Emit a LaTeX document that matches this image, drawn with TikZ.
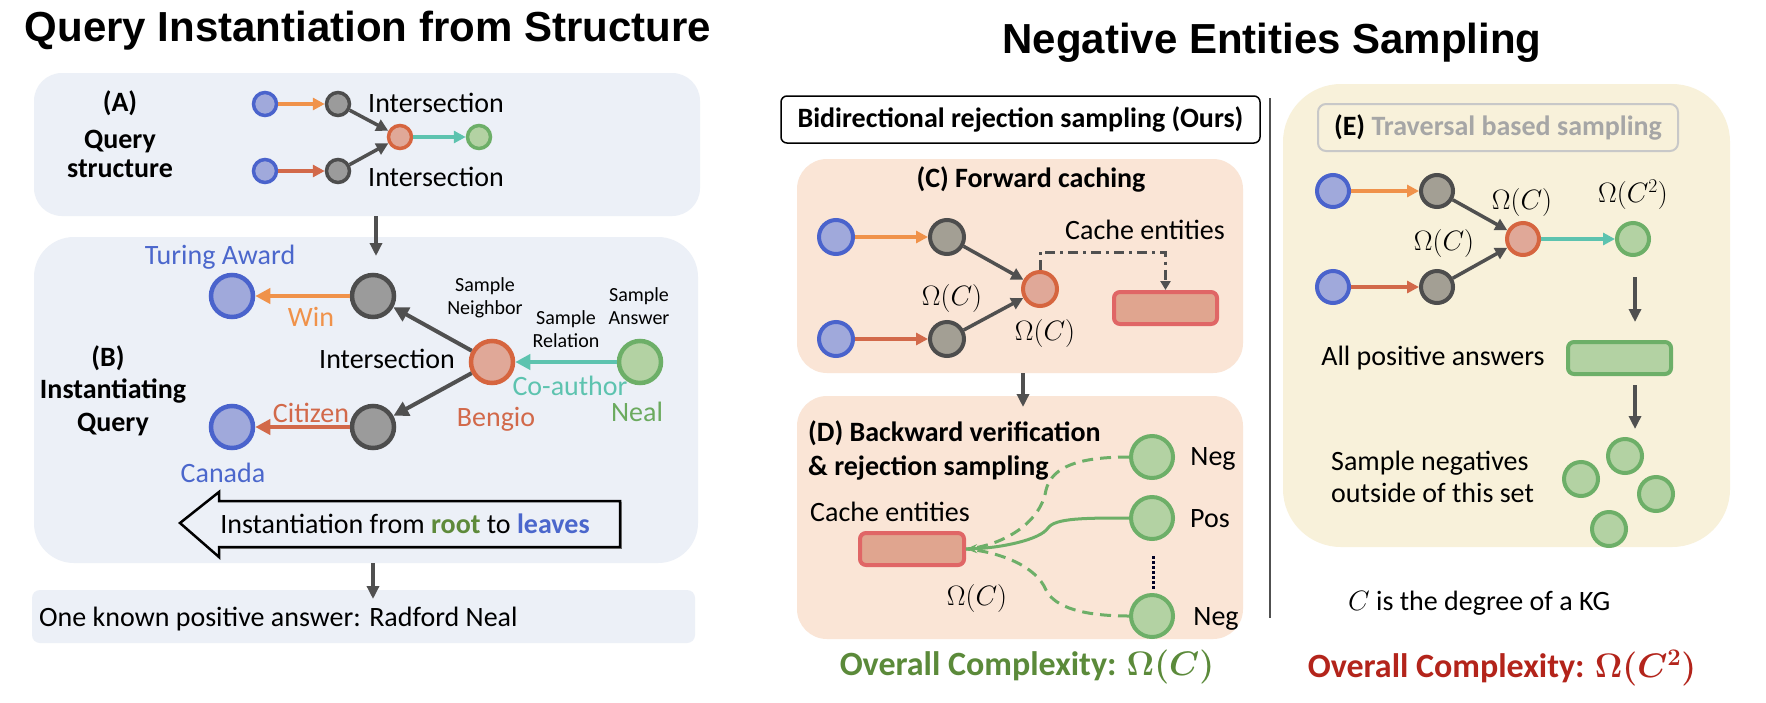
\RequirePackage{fix-cm}
\documentclass[tikz,border=0pt]{standalone}
\usepackage{fontspec}
\setmainfont{Carlito}
\newfontfamily\titlefont{Liberation Sans}
\usetikzlibrary{arrows.meta}
\definecolor{bgblue}{HTML}{ECF0F7}
\definecolor{bgpeach}{HTML}{FAE5D6}
\definecolor{bgcream}{HTML}{F8F1DA}
\definecolor{nblueF}{HTML}{A0A9DB}
\definecolor{nblueD}{HTML}{4A63CC}
\definecolor{ngrayF}{HTML}{9B9B9B}
\definecolor{nwgrayF}{HTML}{A39F94}
\definecolor{ngrayD}{HTML}{4D4D4D}
\definecolor{nredF}{HTML}{E0A898}
\definecolor{nredD}{HTML}{D6653F}
\definecolor{ngreenF}{HTML}{B3D2A3}
\definecolor{ngreenD}{HTML}{6DAF68}
\definecolor{eorange}{HTML}{F0924A}
\definecolor{ered}{HTML}{D2694A}
\definecolor{eteal}{HTML}{5DC3AF}
\definecolor{edark}{HTML}{505050}
\definecolor{tblue}{HTML}{4B67CC}
\definecolor{tgreen}{HTML}{6BAA5E}
\definecolor{rootgreen}{HTML}{5E8A3A}
\definecolor{ovgreen}{HTML}{5B8A3A}
\definecolor{ovred}{HTML}{B3241B}
\definecolor{cacheF}{HTML}{E0A58F}
\definecolor{cacheD}{HTML}{E06666}
\definecolor{egray}{HTML}{A6A6A6}
\definecolor{eborder}{HTML}{C8C8C8}
\begin{document}
\begin{tikzpicture}[x=1pt,y=-1pt,
  panel/.style={draw=none, inner sep=0pt},
  lbl/.style={inner sep=0pt, font=\fontsize{28}{33}\selectfont},
  small/.style={inner sep=0pt, align=center, font=\fontsize{20}{23}\selectfont},
  bold/.style={inner sep=0pt, font=\bfseries\fontsize{28}{33}\selectfont},
  ent/.style={circle, inner sep=0pt},
  anchorN/.style={ent, fill=nblueF, draw=nblueD},
  grayN/.style={ent, fill=ngrayF, draw=ngrayD},
  wgrayN/.style={ent, fill=nwgrayF, draw=ngrayD},
  interN/.style={ent, fill=nredF, draw=nredD},
  ansN/.style={ent, fill=ngreenF, draw=ngreenD},
  sA/.style={minimum size=23pt, line width=3.5pt},
  sB/.style={minimum size=42pt, line width=4.5pt},
  sC/.style={minimum size=34pt, line width=4pt},
  ar/.style={line width=3.5pt, -{Triangle[length=12pt,width=12pt]}},
  arB/.style={line width=4pt, -{Triangle[length=15pt,width=15pt]}},
  setbox/.style={rounded corners=6pt, line width=4pt, minimum width=103pt, minimum height=32pt, inner sep=0pt},
  flow/.style={line width=3.5pt, draw=edark, -{Triangle[length=13pt,width=12pt]}},
  curve/.style={line width=3pt, draw=ngreenD}
]
\useasboundingbox (0,0) rectangle (1766,702);
\fill[white] (0,0) rectangle (1766,702);

% ---------------- titles
\node[inner sep=0pt, font=\titlefont\bfseries\fontsize{42}{50}\selectfont] (title1) at (368,31) {Query Instantiation from Structure};
\node[inner sep=0pt, font=\titlefont\bfseries\fontsize{42}{50}\selectfont] (title2) at (1272,43) {Negative Entities Sampling};

% ---------------- panels
\node[panel, fill=bgblue, rounded corners=28pt, minimum width=666pt, minimum height=143pt] (boxA) at (367,144.5) {};
\node[panel, fill=bgblue, rounded corners=40pt, minimum width=664pt, minimum height=326pt] (boxB) at (366,400) {};
\node[panel, fill=bgblue, rounded corners=8pt, minimum width=663pt, minimum height=53pt] (boxF) at (363.5,616.5) {};
\node[panel, fill=bgpeach, rounded corners=30pt, minimum width=446pt, minimum height=214pt] (boxC) at (1020,266) {};
\node[panel, fill=bgpeach, rounded corners=30pt, minimum width=446pt, minimum height=243pt] (boxD) at (1020,517.5) {};
\node[panel, fill=bgcream, rounded corners=58pt, minimum width=447pt, minimum height=463pt] (boxE) at (1506.5,315.5) {};

% ---------------- (A)
\node[bold] (labA) at (120,103) {(A)};
\node[bold, align=center, font=\bfseries\fontsize{28}{29}\selectfont] (labA2) at (120,154) {Query\\structure};
\node[anchorN, sA] (a1) at (265,104) {};
\node[grayN, sA] (g1) at (338,104) {};
\node[interN, sA] (xA) at (400,137) {};
\node[ansN, sA] (ansA) at (479,137) {};
\node[anchorN, sA] (a2) at (265,171) {};
\node[grayN, sA] (g2) at (338,171) {};
\node[lbl, anchor=west] (intA1) at (368,103) {Intersection};
\node[lbl, anchor=west] (intA2) at (368,177) {Intersection};
\draw[ar, eorange] (a1) -- (g1);
\draw[ar, ered] (a2) -- (g2);
\draw[ar, edark] (g1) -- (xA);
\draw[ar, edark] (g2) -- (xA);
\draw[ar, eteal] (xA) -- (ansA);

\coordinate (abTop) at (376,216);
\coordinate (abBot) at (376,256);
\draw[flow] (abTop) -- (abBot);

% ---------------- (B)
\node[bold] (labB) at (108,358) {(B)};
\node[bold] (labB2) at (113,391) {Instantiating};
\node[bold] (labB3) at (113,425) {Query};
\node[anchorN, sB] (bT) at (232,296) {};
\node[grayN, sB] (gT) at (373,296) {};
\node[interN, sB] (beng) at (492,362) {};
\node[ansN, sB] (neal) at (640,362) {};
\node[anchorN, sB] (bB) at (232,427) {};
\node[grayN, sB] (gB) at (373,427) {};
\node[lbl, text=tblue] (turing) at (220,257) {Turing Award};
\node[lbl, text=eorange] (win) at (311,317) {Win};
\node[lbl, text=ered] (citizen) at (311,413) {Citizen};
\node[lbl, text=tblue] (canada) at (223,473) {Canada};
\node[lbl] (intB) at (387,359) {Intersection};
\node[lbl, text=eteal] (coauth) at (570,386) {Co-author};
\node[lbl, text=ered] (bengT) at (496,419) {Bengio};
\node[lbl, text=tgreen] (nealT) at (637,412) {Neal};
\node[small] (sNb) at (485,298) {Sample\\Neighbor};
\node[small] (sRel) at (566,329) {Sample\\Relation};
\node[small] (sAns) at (639,306) {Sample\\Answer};
\draw[arB, eorange] (gT) -- (bT);
\draw[arB, ered] (gB) -- (bB);
\draw[arB, edark] (beng) -- (gT);
\draw[arB, edark] (beng) -- (gB);
\draw[arB, eteal] (neal) -- (beng);

\draw[line width=2.5pt, line join=miter] (180,523) -- (219,492) -- (219,501) -- (620,501) -- (620,547) -- (219,547) -- (219,557) -- cycle;
\draw[line width=1pt, draw=black!60] (621.5,502) -- (621.5,548.5) -- (220,548.5);
\node[lbl] (instT) at (405,524) {Instantiation from {\bfseries\color{rootgreen}root} to {\bfseries\color{tblue}leaves}};

\coordinate (bfTop) at (373,563);
\coordinate (bfBot) at (373,599);
\draw[flow] (bfTop) -- (bfBot);
\node[lbl, anchor=west] (known) at (39,619) {One known positive answer: Radford Neal};

% ---------------- middle
\node[draw=black, line width=1.5pt, rounded corners=6pt, minimum width=479pt, minimum height=47pt, inner sep=0pt, font=\bfseries\fontsize{28}{33}\selectfont] (bidir) at (1020.5,119.5) {Bidirectional rejection sampling (Ours)};

% (C)
\node[bold] (labC) at (1031,179) {(C) Forward caching};
\node[anchorN, sC] (cb1) at (836,237) {};
\node[wgrayN, sC] (cg1) at (947,237) {};
\node[interN, sC] (cx) at (1040,289) {};
\node[anchorN, sC] (cb2) at (836,339) {};
\node[wgrayN, sC] (cg2) at (947,339) {};
\draw[ar, eorange] (cb1) -- (cg1);
\draw[ar, ered] (cb2) -- (cg2);
\draw[ar, edark] (cg1) -- (cx);
\draw[ar, edark] (cg2) -- (cx);
\node[lbl] (omC1) at (952,298) {$\Omega(C)$};
\node[lbl] (omC2) at (1045,333) {$\Omega(C)$};
\node[lbl] (cacheT) at (1145,230) {Cache entities};
\node[setbox, fill=cacheF, draw=cacheD] (cacheC) at (1165.5,308) {};
\draw[line width=3pt, draw=edark, dash pattern=on 10pt off 5pt on 3pt off 5pt, -{Triangle[length=9pt,width=10pt]}]
  (cx.north) -- ++(0,-18) -| (cacheC.north);

\coordinate (cdTop) at (1023,373);
\coordinate (cdBot) at (1023,407);
\draw[flow] (cdTop) -- (cdBot);

% (D)
\node[bold, anchor=west, align=left, font=\bfseries\fontsize{28}{34}\selectfont] (labD) at (808,450) {(D) Backward verification\\\& rejection sampling};
\node[lbl, anchor=west] (cacheTD) at (810,512) {Cache entities};
\node[setbox, fill=cacheF, draw=cacheD, minimum width=104pt] (cacheDbox) at (912,549) {};
\node[ansN, sB, line width=4pt] (dn1) at (1152,457) {};
\node[ansN, sB, line width=4pt] (dp) at (1152,518) {};
\node[ansN, sB, line width=4pt] (dn2) at (1152,616) {};
\node[lbl] (negT1) at (1213,459) {Neg};
\node[lbl] (posT) at (1210,519) {Pos};
\node[lbl] (negT2) at (1216,619) {Neg};
\coordinate (dotTop) at (1153,556);
\coordinate (dotBot) at (1153,590);
\draw[line width=3pt, dotted, draw=black!85!blue] (dotTop) -- (dotBot);
\node[lbl] (omD) at (977,598) {$\Omega(C)$};
\draw[curve, dash pattern=on 11pt off 7pt] (dn1.west) .. controls (1080,457) and (1052,466) .. (1046,490) .. controls (1040,525) and (1000,546) .. (cacheDbox.east);
\draw[curve, dash pattern=on 11pt off 7pt] (dn2.west) .. controls (1085,616) and (1055,608) .. (1046,590) .. controls (1036,566) and (1000,552) .. (cacheDbox.east);
\draw[curve, -{Stealth[length=11pt,width=9pt]}] (dp.west) .. controls (1085,518) and (1055,518) .. (1048,528) .. controls (1040,540) and (1000,548) .. (cacheDbox.east);
\node[inner sep=0pt, text=ovgreen, font=\bfseries\boldmath\fontsize{34}{40}\selectfont] (ovG) at (1027,667) {Overall Complexity: $\Omega(C)$};

% separator
\coordinate (sepTop) at (1270,98);
\coordinate (sepBot) at (1270,618);
\draw[line width=2pt, draw=edark] (sepTop) -- (sepBot);

% ---------------- (E)
\node[draw=eborder, line width=2pt, rounded corners=8pt, minimum width=360pt, minimum height=47pt, inner sep=0pt, font=\bfseries\fontsize{28}{33}\selectfont] (labE) at (1498,127.5) {(E) {\color{egray}Traversal based sampling}};
\node[anchorN, sC, minimum size=32pt] (eb1) at (1333,191) {};
\node[wgrayN, sC, minimum size=32pt] (eg1) at (1437,191) {};
\node[interN, sC, minimum size=32pt] (ex) at (1523,239) {};
\node[ansN, sC, minimum size=32pt] (eans) at (1633,239) {};
\node[anchorN, sC, minimum size=32pt] (eb2) at (1333,287) {};
\node[wgrayN, sC, minimum size=32pt] (eg2) at (1437,287) {};
\draw[ar, eorange] (eb1) -- (eg1);
\draw[ar, ered] (eb2) -- (eg2);
\draw[ar, edark] (eg1) -- (ex);
\draw[ar, edark] (eg2) -- (ex);
\draw[ar, eteal] (ex) -- (eans);
\node[lbl] (omE1) at (1522,202) {$\Omega(C)$};
\node[lbl] (omE2) at (1444,243) {$\Omega(C)$};
\node[lbl] (omE3) at (1633,195) {$\Omega(C^2)$};
\coordinate (eaTop) at (1635,277);
\coordinate (eaBot) at (1635,322);
\draw[flow] (eaTop) -- (eaBot);
\node[lbl] (allpos) at (1433,358) {All positive answers};
\node[setbox, fill=ngreenF, draw=ngreenD] (eset) at (1619.5,358) {};
\coordinate (ebTop) at (1635,385);
\coordinate (ebBot) at (1635,429);
\draw[flow] (ebTop) -- (ebBot);
\node[lbl, anchor=west, align=left, font=\fontsize{28}{32}\selectfont] (sampneg) at (1331,477) {Sample negatives\\outside of this set};
\node[ansN, sC] (neg1) at (1625,456) {};
\node[ansN, sC] (neg2) at (1581,479) {};
\node[ansN, sC] (neg3) at (1656,494) {};
\node[ansN, sC] (neg4) at (1609,529) {};
\node[lbl, anchor=west] (degree) at (1348,603) {$C$ is the degree of a KG};
\node[inner sep=0pt, text=ovred, font=\bfseries\boldmath\fontsize{34}{40}\selectfont] (ovR) at (1502,668) {Overall Complexity: $\Omega(C^2)$};
\end{tikzpicture}
\end{document}
